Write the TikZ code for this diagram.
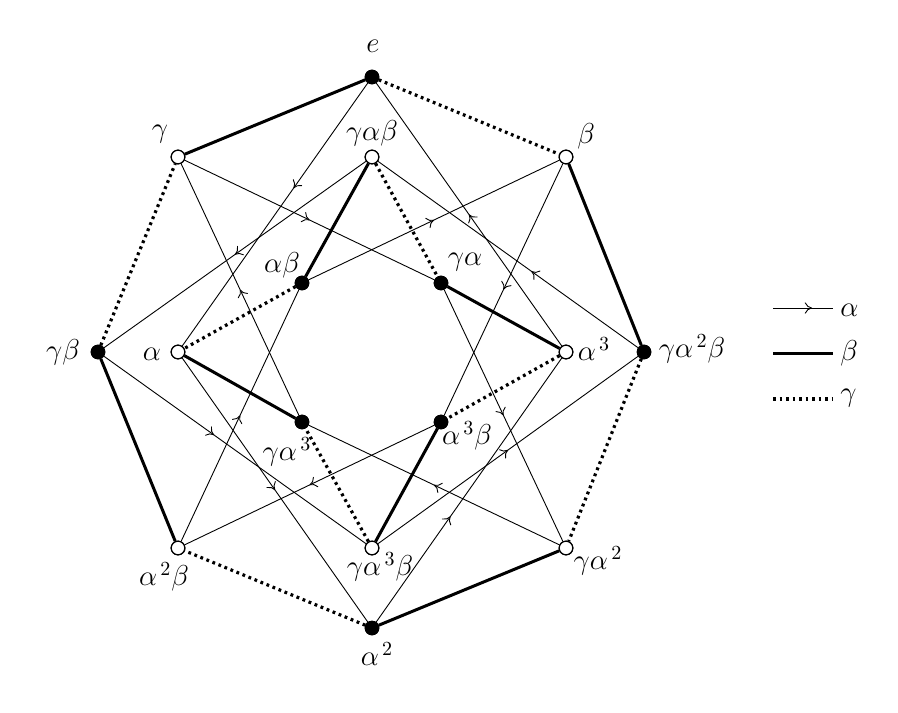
\documentclass[tikz,border=0pt]{standalone}
\usetikzlibrary{arrows.meta,decorations.markings}
\begin{document}
\begin{tikzpicture}[x=0.5pt,y=-0.5pt,
  vb/.style={circle,draw,fill=black,inner sep=0pt,minimum size=6.8pt,line width=0.5pt},
  vw/.style={circle,draw,fill=white,inner sep=0pt,minimum size=6.8pt,line width=0.6pt},
  aedge/.style={line width=0.45pt,
    decoration={markings,mark=at position #1 with {\arrow{To[length=3.6pt,width=5.6pt]}}},
    postaction={decorate}},
  aedge/.default=0.5,
  bedge/.style={line width=1.5pt},
  cedge/.style={line width=1.6pt, dash pattern=on 1.4pt off 1.85pt},
  lab/.style={font=\fontsize{14}{16}\selectfont, inner sep=0pt}
]
\useasboundingbox (0,0) rectangle (898,712);

% vertices
\node[vb] (e)    at (372,77)  {};
\node[vw] (b)    at (566,157) {};
\node[vb] (ga2b) at (644,352) {};
\node[vw] (ga2)  at (566,548) {};
\node[vb] (a2)   at (372,628) {};
\node[vw] (a2b)  at (178,548) {};
\node[vb] (gb)   at (98,352)  {};
\node[vw] (g)    at (178,157) {};
\node[vw] (gab)  at (372,157) {};
\node[vb] (ab)   at (302,283) {};
\node[vb] (ga)   at (441,283) {};
\node[vw] (a3)   at (566,352) {};
\node[vb] (a3b)  at (441,422) {};
\node[vw] (ga3b) at (372,548) {};
\node[vb] (ga3)  at (302,422) {};
\node[vw] (a)    at (178,352) {};

% alpha edges
\draw[aedge=0.4] (e) -- (a);
\draw[aedge] (a) -- (a2);
\draw[aedge=0.4] (a2) -- (a3);
\draw[aedge] (a3) -- (e);
\draw[aedge] (g) -- (ga);
\draw[aedge] (ga) -- (ga2);
\draw[aedge] (ga2) -- (ga3);
\draw[aedge] (ga3) -- (g);
\draw[aedge] (ab) -- (b);
\draw[aedge] (b) -- (a3b);
\draw[aedge] (a3b) -- (a2b);
\draw[aedge] (a2b) -- (ab);
\draw[aedge] (gab) -- (gb);
\draw[aedge=0.42] (gb) -- (ga3b);
\draw[aedge] (ga3b) -- (ga2b);
\draw[aedge=0.41] (ga2b) -- (gab);

% beta edges
\draw[bedge] (e) -- (g);
\draw[bedge] (b) -- (ga2b);
\draw[bedge] (ga2) -- (a2);
\draw[bedge] (a2b) -- (gb);
\draw[bedge] (gab) -- (ab);
\draw[bedge] (ga) -- (a3);
\draw[bedge] (a) -- (ga3);
\draw[bedge] (a3b) -- (ga3b);

% gamma edges
\draw[cedge] (e) -- (b);
\draw[cedge] (ga2b) -- (ga2);
\draw[cedge] (a2) -- (a2b);
\draw[cedge] (gb) -- (g);
\draw[cedge] (gab) -- (ga);
\draw[cedge] (a3) -- (a3b);
\draw[cedge] (ga3b) -- (ga3);
\draw[cedge] (ab) -- (a);

% redraw vertices on top
\foreach \n/\s in {e/vb,b/vw,ga2b/vb,ga2/vw,a2/vb,a2b/vw,gb/vb,g/vw,gab/vw,ab/vb,ga/vb,a3/vw,a3b/vb,ga3b/vw,ga3/vb,a/vw}
  \node[\s] at (\n) {};

% labels
\node[lab] (le)    at (373,46)  {$e$};
\node[lab] (lg)    at (160,134) {$\gamma$};
\node[lab] (lgab)  at (372,133) {$\gamma\alpha\beta$};
\node[lab] (lb)    at (586,136) {$\beta$};
\node[lab] (lab)   at (282,265) {$\alpha\beta$};
\node[lab] (lga)   at (465,262) {$\gamma\alpha$};
\node[lab] (la)    at (152,354) {$\alpha$};
\node[lab] (la3)   at (594,349) {$\alpha^{\,3}$};
\node[lab] (lga2b) at (692,349) {$\gamma\alpha^{\,2}\beta$};
\node[lab] (lgb)   at (63,352)  {$\gamma\beta$};
\node[lab] (lga3)  at (287,452) {$\gamma\alpha^{\,3}$};
\node[lab] (la3b)  at (467,436) {$\alpha^{\,3}\beta$};
\node[lab] (lga3b) at (380,567) {$\gamma\alpha^{\,3}\beta$};
\node[lab] (lga2)  at (598,561) {$\gamma\alpha^{\,2}$};
\node[lab] (la2b)  at (164,577) {$\alpha^{\,2}\beta$};
\node[lab] (la2)   at (377,654) {$\alpha^{\,2}$};

% legend
\coordinate (k1s) at (773,308); \coordinate (k1e) at (833,308);
\coordinate (k2s) at (773,353); \coordinate (k2e) at (833,353);
\coordinate (k3s) at (773,399); \coordinate (k3e) at (833,399);
\draw[aedge=0.65] (k1s) -- (k1e);
\draw[bedge] (k2s) -- (k2e);
\draw[cedge] (k3s) -- (k3e);
\node[lab,anchor=west] (kl1) at (840,310) {$\alpha$};
\node[lab,anchor=west] (kl2) at (840,353) {$\beta$};
\node[lab,anchor=west] (kl3) at (840,398) {$\gamma$};
\end{tikzpicture}
\end{document}
